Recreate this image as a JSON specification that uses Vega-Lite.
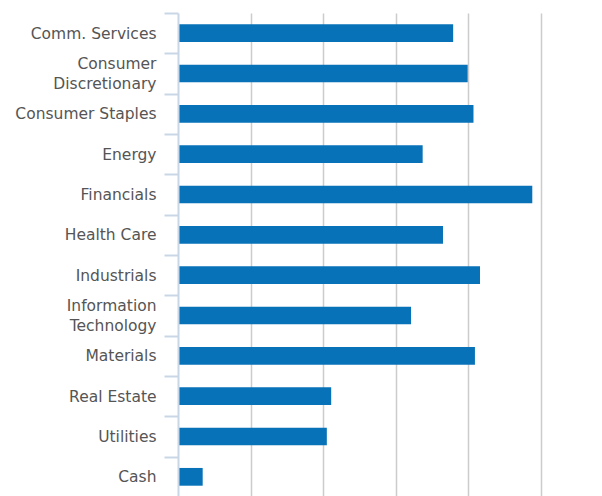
{
  "$schema": "https://vega.github.io/schema/vega-lite/v6.json",
  "autosize": "none",
  "width": 363,
  "height": 484,
  "padding": {"left": 178, "top": 13, "right": 61, "bottom": 0},
  "background": "white",
  "data": {"values": [
    {"sector": "Comm. Services", "value": 3.79},
    {"sector": "Consumer Discretionary", "value": 3.99},
    {"sector": "Consumer Staples", "value": 4.07},
    {"sector": "Energy", "value": 3.37},
    {"sector": "Financials", "value": 4.88},
    {"sector": "Health Care", "value": 3.65},
    {"sector": "Industrials", "value": 4.16},
    {"sector": "Information Technology", "value": 3.21},
    {"sector": "Materials", "value": 4.09},
    {"sector": "Real Estate", "value": 2.11},
    {"sector": "Utilities", "value": 2.05},
    {"sector": "Cash", "value": 0.34}
  ]},
  "config": {"view": {"stroke": null}},
  "mark": {"type": "bar", "color": "#0872b8"},
  "encoding": {
    "y": {
      "field": "sector", "type": "nominal", "sort": null,
      "scale": {"paddingInner": 0.56, "paddingOuter": 0.28},
      "axis": {
        "title": null,
        "labelExpr": "datum.value == 'Consumer Discretionary' ? ['Consumer', 'Discretionary'] : datum.value == 'Information Technology' ? ['Information', 'Technology'] : datum.value",
        "labelFont": "DejaVu Sans",
        "labelFontSize": 15.5,
        "labelColor": "#555555",
        "labelLineHeight": 20,
        "labelOffset": {"condition": {"test": "datum.value == 'Consumer Discretionary' || datum.value == 'Information Technology'", "value": 10.17}, "value": 20.17},
        "labelPadding": 8,
        "tickSize": 14,
        "tickOffset": -20.17,
        "tickColor": "#c8d6e5",
        "tickWidth": 2,
        "domainColor": "#c8d6e5",
        "domainWidth": 2,
        "zindex": 1
      }
    },
    "x": {
      "field": "value", "type": "quantitative",
      "scale": {"domain": [0, 5], "nice": false},
      "axis": {
        "title": null, "labels": false, "ticks": false, "domain": false,
        "values": [1, 2, 3, 4, 5], "grid": true,
        "gridColor": "#cccccc", "gridWidth": 1.5
      }
    }
  }
}
